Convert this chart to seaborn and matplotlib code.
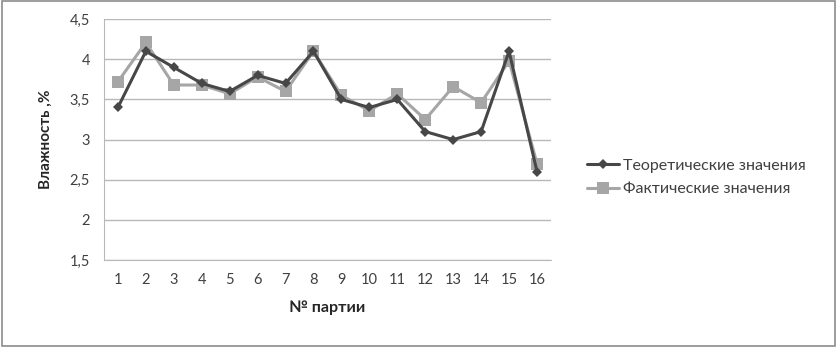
import matplotlib
matplotlib.use('Agg')
import matplotlib.pyplot as plt
import seaborn as sns
import pandas as pd
from matplotlib.patches import Rectangle

# Data
batches = list(range(1, 17))
theoretical = [3.4, 4.1, 3.9, 3.7, 3.6, 3.8, 3.7, 4.1, 3.5, 3.4, 3.5, 3.1, 3.0, 3.1, 4.1, 2.6]
actual = [3.72, 4.21, 3.68, 3.68, 3.57, 3.78, 3.6, 4.1, 3.55, 3.36, 3.57, 3.25, 3.66, 3.46, 3.98, 2.7]
y_ticks = [1.5, 2, 2.5, 3, 3.5, 4, 4.5]
y_tick_labels = ['1,5', '2', '2,5', '3', '3,5', '4', '4,5']
name_theor = 'Теоретические значения'
name_fact = 'Фактические значения'

sns.set_style("white")
plt.rcParams['font.family'] = ['Lato', 'DejaVu Sans']

df = pd.DataFrame({
    'batch': batches * 2,
    'value': theoretical + actual,
    'series': [name_theor] * len(batches) + [name_fact] * len(batches),
})

fig = plt.figure(figsize=(8.38, 3.47), dpi=100)
ax = fig.add_axes([0.124, 0.2507, 0.5335, 0.694])

# actual drawn first so the theoretical line sits on top like the original
sns.lineplot(data=df[df['series'] == name_fact], x='batch', y='value',
             color='#a6a6a6', marker='s', markersize=8, markeredgewidth=0,
             linewidth=2.2, ax=ax, label=name_fact)
sns.lineplot(data=df[df['series'] == name_theor], x='batch', y='value',
             color='#474747', marker='D', markersize=5, markeredgewidth=0,
             linewidth=2.2, ax=ax, label=name_theor)

ax.set_xlim(0.5, 16.5)
ax.set_ylim(1.5, 4.5)
ax.set_xticks(batches)
ax.set_xticklabels([str(b) for b in batches], fontsize=10.5, color='#404040')
ax.set_yticks(y_ticks)
ax.set_yticklabels(y_tick_labels, fontsize=10.5, color='#404040')
ax.tick_params(axis='x', length=0, pad=9)
ax.tick_params(axis='y', length=4, color='#b0b0b0', pad=6)
ax.yaxis.grid(True, color='#b8b8b8', linewidth=1)
ax.set_axisbelow(True)
for s in ['top', 'right']:
    ax.spines[s].set_visible(False)
for s in ['left', 'bottom']:
    ax.spines[s].set_color('#b8b8b8')

ax.set_xlabel('№ партии', fontsize=11.5, fontweight='bold', labelpad=10)
ax.set_ylabel('Влажность ,%', fontsize=11, fontweight='bold', labelpad=12)

handles, labels = ax.get_legend_handles_labels()
ax.get_legend().remove()
order = [labels.index(name_theor), labels.index(name_fact)]
leg = fig.legend([handles[i] for i in order], [labels[i] for i in order],
                 loc='upper left', bbox_to_anchor=(0.683, 0.585),
                 frameon=False, fontsize=11.5, handlelength=2.0,
                 handletextpad=0.3, labelspacing=0.6)
for t in leg.get_texts():
    t.set_color('#404040')

# outer chart frame
fig.patches.append(Rectangle((0.002, 0.004), 0.995, 0.992, transform=fig.transFigure,
                             fill=False, edgecolor='#8c8c8c', linewidth=1.2))

fig.savefig('out.png', dpi=100, facecolor='white')
